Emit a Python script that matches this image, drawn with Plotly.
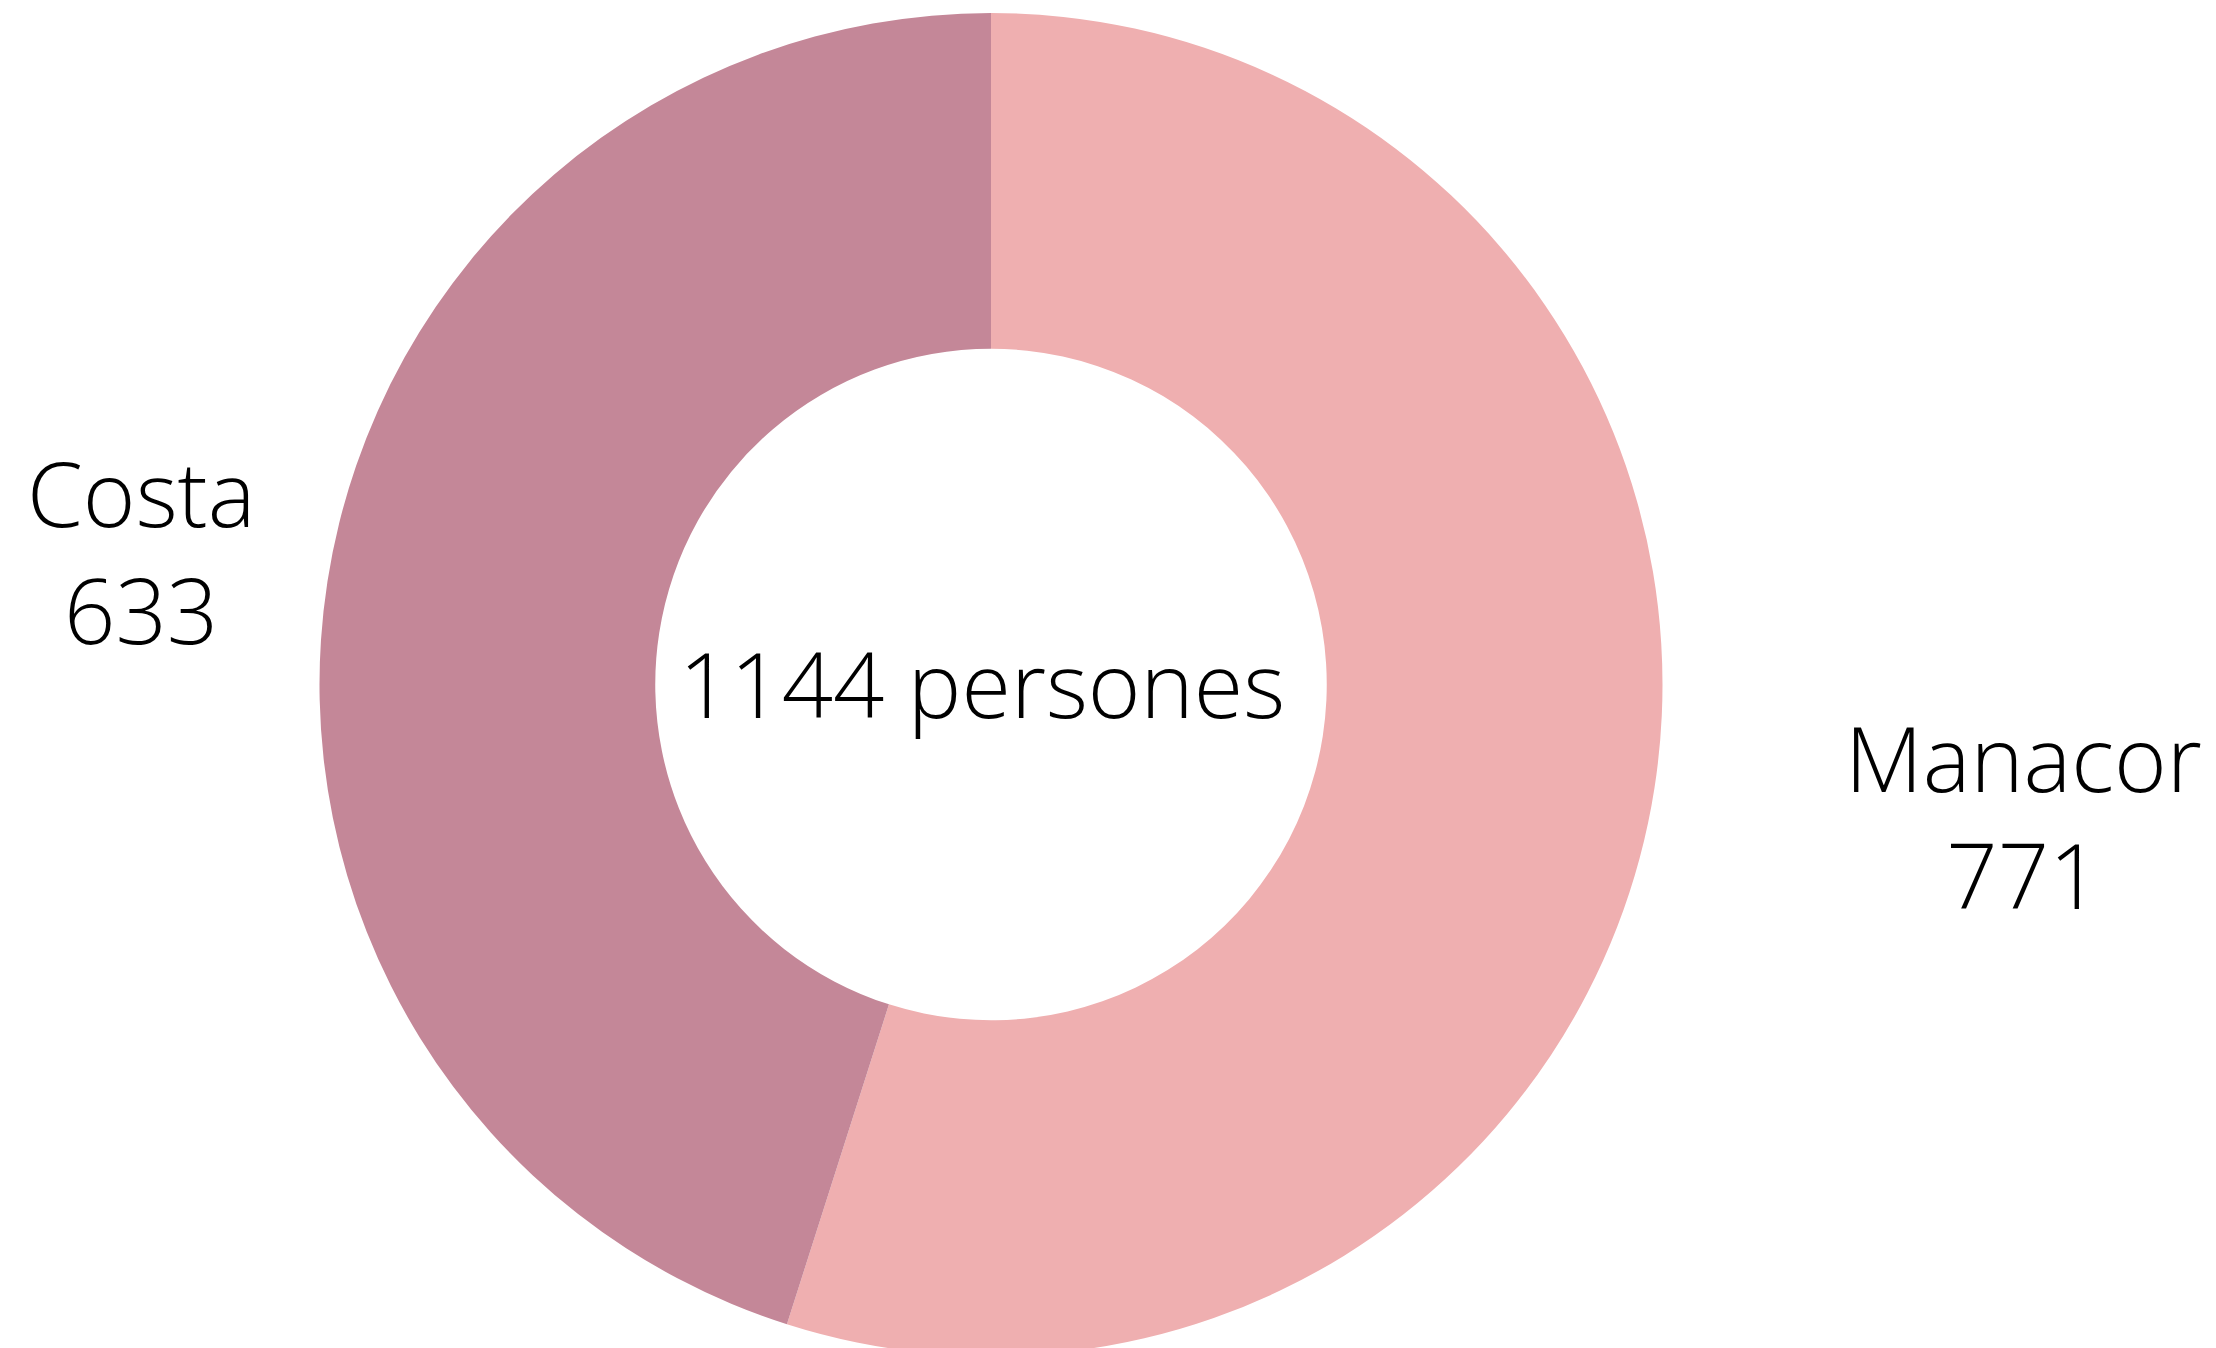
import plotly.graph_objects as go

# donut data
labels = ["Manacor", "Costa"]
values = [771, 633]
colors = ["#EFAFB0", "#C48798"]
center_text = "1144 persones"

fig = go.Figure()

fig.add_trace(go.Pie(
    labels=labels,
    values=values,
    hole=0.5,
    sort=False,
    direction="clockwise",
    rotation=0,
    marker=dict(colors=colors, line=dict(width=0)),
    textinfo="none",
    hoverinfo="label+value",
    showlegend=False,
))

# outer labels, placed by hand like the original
label_pos = {"Costa": (0.0677, 0.6001), "Manacor": (1.0254, 0.4028)}
for lab, val in zip(labels, values):
    x, y = label_pos[lab]
    fig.add_annotation(text=f"{lab}<br>{val}", x=x, y=y, xref="paper", yref="paper",
                       showarrow=False, xanchor="center", yanchor="middle", align="center")

fig.add_annotation(text=center_text, x=0.4954, y=0.5011, xref="paper", yref="paper",
                   showarrow=False, xanchor="center", yanchor="middle")

fig.update_layout(
    width=2216, height=1348,
    margin=dict(l=0, r=250, t=5, b=0),
    paper_bgcolor="white",
    plot_bgcolor="white",
    font=dict(family="Open Sans", size=90, color="black", weight=300),
)

fig.write_html("out.html")
